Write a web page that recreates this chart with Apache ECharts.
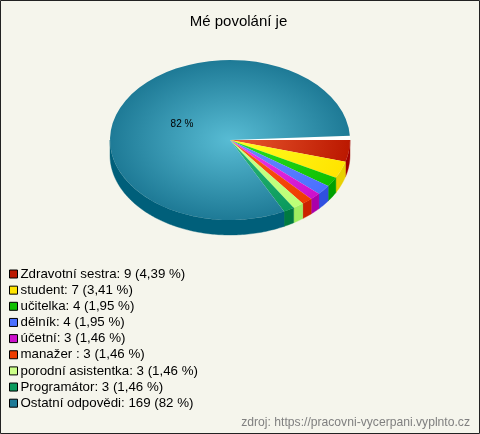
<!DOCTYPE html>
<html><head><meta charset="utf-8">
<script src="https://cdn.jsdelivr.net/npm/echarts@6/dist/echarts.min.js"></script>
<style>html,body{margin:0;padding:0;background:#f5f5ec}#c{width:480px;height:434px}</style>
</head><body><div id="c"></div>
<script>
const titleText = 'Mé povolání je';
const sourceText = 'zdroj: https://pracovni-vycerpani.vyplnto.cz';
const categories = ['Zdravotní sestra','student','učitelka','dělník','účetní','manažer ','porodní asistentka','Programátor','Ostatní odpovědi'];
const counts = [9,7,4,4,3,3,3,3,169];
const percents = ['4,39','3,41','1,95','1,95','1,46','1,46','1,46','1,46','82'];
const innerColors = ['#ea5a30','#ffff22','#28e028','#6a8cff','#f040f0','#ff5c1c','#ccff88','#2cb878','#58bcd4'];
const outerColors = ['#bb1800','#ffe400','#10c000','#4a70ff','#cc10cc','#ee3c00','#bbff77','#0a9a5c','#1e7a96'];
const sideColors = ['#a00000','#e8d000','#00a000','#3050e0','#aa00aa','#cc2200','#a0ee60','#007a40','#005f7a'];
const legendColors = ['#bb1800','#ffe400','#10c000','#4a70ff','#cc10cc','#ee3c00','#ccff88','#0a9a5c','#1e7a96'];

const CX=230, CY=140, RX=120, RY=80, DEPTH=15, GAP=3*Math.PI/180;
const total = counts.reduce((a,b)=>a+b,0);
const starts=[]; let acc=0;
counts.forEach(v=>{starts.push(acc/total*2*Math.PI); acc+=v;});

function renderSlice(i){
  return function(){
    const a0=starts[i];
    let a1=a0+counts[i]/total*2*Math.PI;
    const isLast=i===counts.length-1;
    if(isLast) a1-=GAP;
    const children=[];
    const fa=Math.max(a0,0), fb=Math.min(a1,Math.PI);
    if(fb>fa){
      const pts=[];
      const n=Math.max(2,Math.ceil((fb-fa)*60));
      for(let k=0;k<=n;k++){const t=fa+(fb-fa)*k/n;pts.push([CX+RX*Math.cos(t),CY+RY*Math.sin(t)]);}
      for(let k=n;k>=0;k--){const t=fa+(fb-fa)*k/n;pts.push([CX+RX*Math.cos(t),CY+DEPTH+RY*Math.sin(t)]);}
      children.push({type:'polygon',shape:{points:pts},style:{fill:sideColors[i],stroke:sideColors[i],lineWidth:0.4}});
    }
    if(isLast){
      children.push({type:'sector',shape:{cx:CX,cy:CY,r:RX,r0:0,startAngle:a1,endAngle:2*Math.PI,clockwise:true},
        originX:CX,originY:CY,scaleY:RY/RX,style:{fill:'#ffffff'}});
    }
    children.push({type:'sector',shape:{cx:CX,cy:CY,r:RX,r0:0,startAngle:a0,endAngle:a1,clockwise:true},
      originX:CX,originY:CY,scaleY:RY/RX,
      style:{fill:new echarts.graphic.RadialGradient(CX,CY,RX,[{offset:0,color:innerColors[i]},{offset:1,color:outerColors[i]}],true),
        stroke:null}});
    return {type:'group',children};
  };
}

const option={
  backgroundColor:'#f5f5ec',
  animation:false,
  title:[
    {text:titleText,left:238.5,top:14,textAlign:'center',padding:0,textStyle:{fontFamily:'Liberation Sans',fontSize:15,fontWeight:'normal',color:'#000'}},
    {text:sourceText,right:10,top:417,padding:0,textStyle:{fontFamily:'Liberation Sans',fontSize:12.15,fontWeight:'normal',color:'#808080'}}
  ],
  legend:{
    orient:'vertical',left:9,top:267,itemWidth:8,itemHeight:8,itemGap:2.15,padding:0,
    icon:'rect',selectedMode:false,
    itemStyle:{borderColor:'#000',borderWidth:1},
    textStyle:{fontFamily:'Liberation Sans',fontSize:13.3,lineHeight:14,color:'#000',padding:[0,0,0,-2]},
    formatter:n=>n,
    data:categories.map((c,i)=>c+': '+counts[i]+' ('+percents[i]+' %)')
  },
  graphic:[
    {type:'rect',shape:{x:0.5,y:0.5,width:479,height:433},style:{fill:null,stroke:'#222',lineWidth:1},silent:true,z:100},
    {type:'text',x:182,y:124,style:{text:percents[8]+' %',fontFamily:'Liberation Sans',fontSize:10,fill:'#000',textAlign:'center',textVerticalAlign:'middle'},z:50}
  ],
  series:categories.map((c,i)=>({
    type:'custom',coordinateSystem:'none',
    name:c+': '+counts[i]+' ('+percents[i]+' %)',
    itemStyle:{color:legendColors[i]},
    data:[counts[i]],
    renderItem:renderSlice(i),
    silent:true
  }))
};
echarts.init(document.getElementById('c'),null,{renderer:'canvas'}).setOption(option);
</script></body></html>
